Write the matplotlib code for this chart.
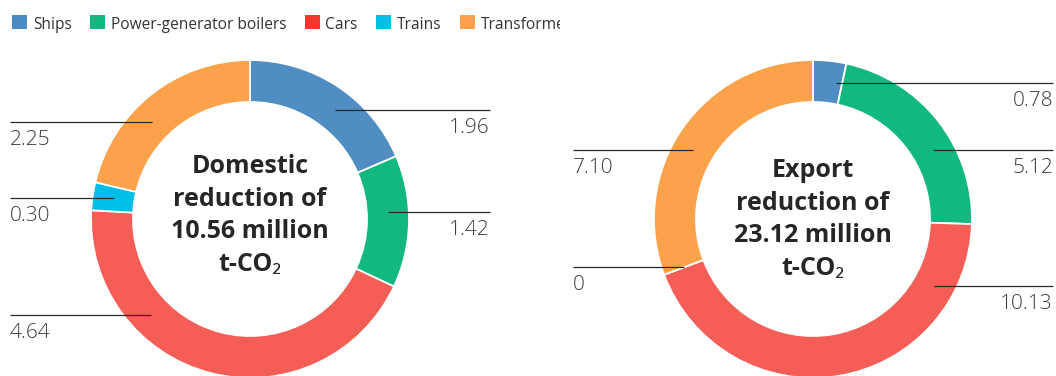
import matplotlib
matplotlib.use("Agg")
import matplotlib.pyplot as plt
from matplotlib.patches import Rectangle
from matplotlib.transforms import Bbox, TransformedBbox
import numpy as np

# Emission reductions (million t-CO2) by product
categories = ["Ships", "Power-generator boilers", "Cars", "Trains", "Transformers"]
domestic = [1.96, 1.42, 4.64, 0.30, 2.25]
export = [0.78, 5.12, 10.13, 0.00, 7.10]
domestic_total = "10.56"
export_total = "23.12"

legend_colors = ["#4a8bc4", "#13b87f", "#f2392c", "#00bee6", "#ffa04a"]
slice_colors = ["#4f8dc2", "#13b87f", "#f45e56", "#00bee6", "#fba24b"]

# Leader-line heights (pixels from top) for each slice label
domestic_label_y = [110, 212, 315, 198, 122]
export_label_y = [83, 150, 286, 267, 150]

W, H = 1056, 376
plt.rcParams["font.family"] = ["Open Sans", "Noto Sans", "DejaVu Sans"]

fig = plt.figure(figsize=(W / 100, H / 100), dpi=100)
ax = fig.add_axes([0, 0, 1, 1])

R_OUT, RING = 159, 42
R_MID = R_OUT - RING / 2
TEXT_C = "#3c3c3c"


def donut(cx, cy_px, values, label_y, title_lines, title_shift):
    cy = H - cy_px
    vals = [v if v > 0 else 1e-9 for v in values]
    ax.pie(vals, colors=slice_colors, startangle=90, counterclock=False,
           radius=R_OUT, center=(cx, cy), normalize=True,
           wedgeprops=dict(width=RING, edgecolor="white", linewidth=1.3))
    total = sum(vals)
    cum = 0.0
    for v, ly, txt in zip(vals, label_y, values):
        mid = (cum + v / 2) / total
        cum += v
        ang = np.deg2rad(90 - 360 * mid)
        side = 1 if np.cos(ang) > 1e-6 else -1
        y = H - ly
        dy = y - cy
        x_in = cx + side * np.sqrt(max(R_MID ** 2 - dy ** 2, 0))
        x_out = cx + side * 240
        ax.plot([x_in, x_out], [y, y], color="#2a2a2a", lw=0.9,
                solid_capstyle="butt", zorder=5)
        ax.text(x_out, y - 23, f"{txt:.2f}" if txt > 0 else "0",
                ha="right" if side > 0 else "left", va="baseline",
                fontsize=15, fontweight="light", color=TEXT_C)
    base = cy + 44 - title_shift
    for i, line in enumerate(title_lines):
        ax.text(cx, base - 32.5 * i, line, ha="center", va="baseline",
                fontsize=18, fontweight="bold", color="#262626")


donut(250, 219, domestic, domestic_label_y,
      ["Domestic", "reduction of", f"{domestic_total} million", "t-CO₂"], -2)
donut(813, 219, export, export_label_y,
      ["Export", "reduction of", f"{export_total} million", "t-CO₂"], 2)

ax.set_xlim(0, W)
ax.set_ylim(0, H)
ax.set_aspect("equal")
ax.axis("off")

# Legend row, clipped on the right
clip = TransformedBbox(Bbox([[0, 0], [560, H]]), ax.transData)
fig.canvas.draw()
renderer = fig.canvas.get_renderer()
x = 12
base_y = H - 29
for name, col in zip(categories, legend_colors):
    sq = Rectangle((x, base_y), 15, 14.5, facecolor=col, edgecolor="none")
    ax.add_patch(sq)
    t = ax.text(x + 21, base_y, name, ha="left", va="baseline", fontsize=11.2,
                color="#333333", clip_on=True)
    t.set_clip_box(clip)
    bb = t.get_window_extent(renderer)
    x = x + 21 + bb.width + 18

fig.savefig("out.png", dpi=100)
